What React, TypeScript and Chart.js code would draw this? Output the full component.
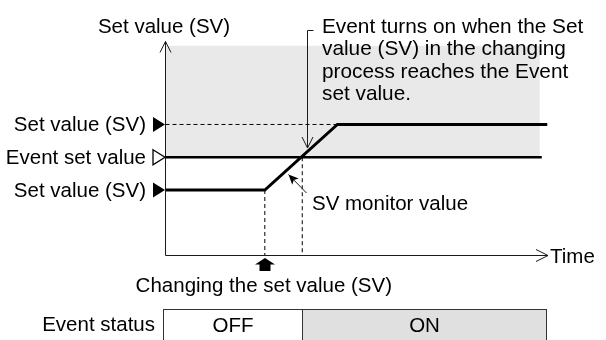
import React, { useEffect, useRef } from "react";
import { Chart, registerables } from "chart.js";

Chart.register(...registerables);

const FONT = '"Liberation Sans", Arial, Helvetica, sans-serif';

// ---- data ----
const svTimes = [0, 26, 45, 100];
const svValues = [30, 30, 60, 60];
const initialSV = 30;
const targetSV = 60;
const eventSetValue = 45;
const eventLineEnd = 98.5;
const shadeTop = 96;
const shadeEnd = 98;
const changeTime = 26;
const rampEndTime = 45;
const eventOnTime = 35.8;
const statusEdges = [-0.7, 35.8, 99.7];
const statusLabels = ["OFF", "ON"];
const xMax = 100;
const yMax = 98;

const yAxisTitle = "Set value (SV)";
const xAxisTitle = "Time";
const leftLabels = ["Set value (SV)", "Event set value", "Set value (SV)"];
const noteLines = [
  "Event turns on when the Set",
  "value (SV) in the changing",
  "process reaches the Event",
  "set value.",
];
const monitorLabel = "SV monitor value";
const changeLabel = "Changing the set value (SV)";
const statusTitle = "Event status";

const diagramPlugin = {
  id: "diagram",
  afterDraw(chart: any) {
    const ctx: CanvasRenderingContext2D = chart.ctx;
    const xs = chart.scales.x;
    const ys = chart.scales.y;
    const px = (v: number) => xs.getPixelForValue(v);
    const py = (v: number) => ys.getPixelForValue(v);
    const ax = Math.round(px(0)) - 0.5;
    const ay = Math.round(py(0)) - 0.5;
    const axEnd = px(xMax) + 0.5;
    const ayTop = py(yMax);

    ctx.save();
    ctx.strokeStyle = "#1a1a1a";
    ctx.lineWidth = 1;
    // axes
    ctx.beginPath();
    ctx.moveTo(ax, ay);
    ctx.lineTo(ax, ayTop);
    ctx.moveTo(ax, ay);
    ctx.lineTo(axEnd, ay);
    ctx.stroke();
    // y arrow head
    ctx.beginPath();
    ctx.moveTo(ax - 5.5, ayTop + 11);
    ctx.lineTo(ax, ayTop);
    ctx.lineTo(ax + 5.5, ayTop + 11);
    ctx.stroke();
    // x arrow head
    ctx.beginPath();
    ctx.moveTo(axEnd - 12, ay - 6);
    ctx.lineTo(axEnd, ay);
    ctx.lineTo(axEnd - 12, ay + 6);
    ctx.stroke();

    // left markers
    const markerVals = [targetSV, eventSetValue, initialSV];
    markerVals.forEach((v, i) => {
      const y = py(v);
      ctx.beginPath();
      ctx.moveTo(ax - 12.5, y - 7.5);
      ctx.lineTo(ax - 0.5, y);
      ctx.lineTo(ax - 12.5, y + 7.5);
      ctx.closePath();
      if (i === 1) {
        ctx.fillStyle = "#fff";
        ctx.fill();
        ctx.lineWidth = 1.3;
        ctx.strokeStyle = "#000";
        ctx.stroke();
      } else {
        ctx.fillStyle = "#000";
        ctx.fill();
      }
    });

    // texts
    ctx.fillStyle = "#000";
    ctx.font = `20.5px ${FONT}`;
    ctx.textBaseline = "alphabetic";
    ctx.textAlign = "center";
    ctx.fillText(yAxisTitle, 164, 32.5);
    ctx.textAlign = "right";
    markerVals.forEach((v, i) => {
      ctx.fillText(leftLabels[i], 146, py(v) + 7);
    });
    ctx.textAlign = "left";
    ctx.fillText(xAxisTitle, 550, ay + 7);
    ctx.fillText(monitorLabel, 312, 210);
    ctx.textAlign = "center";
    const cx = px(changeTime);
    ctx.fillText(changeLabel, cx - 1, 292);
    ctx.textAlign = "right";
    ctx.fillText(statusTitle, 155, 331);
    ctx.textAlign = "left";
    ctx.font = `20.8px ${FONT}`;
    noteLines.forEach((l, i) => ctx.fillText(l, 322, 33 + i * 22.3));
    ctx.font = `20.5px ${FONT}`;

    // annotation bracket with arrow
    ctx.strokeStyle = "#1a1a1a";
    ctx.lineWidth = 1;
    const bx = 307.5;
    const tipY = 148;
    ctx.beginPath();
    ctx.moveTo(313.5, 30.5);
    ctx.lineTo(bx, 30.5);
    ctx.lineTo(bx, tipY);
    ctx.stroke();
    ctx.beginPath();
    ctx.moveTo(bx - 5.5, tipY - 11);
    ctx.lineTo(bx, tipY);
    ctx.lineTo(bx + 5.5, tipY - 11);
    ctx.stroke();

    // SV monitor arrow
    const tx = 288.5, ty = 174.5, sx = 306.5, sy = 193;
    ctx.beginPath();
    ctx.moveTo(sx, sy);
    ctx.lineTo(tx, ty);
    ctx.stroke();
    const dx = sx - tx, dy = sy - ty;
    const len = Math.hypot(dx, dy);
    const ux = dx / len, uy = dy / len;
    const hl = 10, hw = 4.5;
    ctx.beginPath();
    ctx.moveTo(tx, ty);
    ctx.lineTo(tx + ux * hl - uy * hw, ty + uy * hl + ux * hw);
    ctx.lineTo(tx + ux * hl * 0.75, ty + uy * hl * 0.75);
    ctx.lineTo(tx + ux * hl + uy * hw, ty + uy * hl - ux * hw);
    ctx.closePath();
    ctx.fillStyle = "#000";
    ctx.fill();

    // block arrow under x axis
    const bax = Math.round(cx);
    ctx.beginPath();
    ctx.moveTo(bax, ay + 2.5);
    ctx.lineTo(bax + 10, ay + 9);
    ctx.lineTo(bax + 5.5, ay + 9);
    ctx.lineTo(bax + 5.5, ay + 15.5);
    ctx.lineTo(bax - 5.5, ay + 15.5);
    ctx.lineTo(bax - 5.5, ay + 9);
    ctx.lineTo(bax - 10, ay + 9);
    ctx.closePath();
    ctx.fill();

    // event status boxes
    const boxTop = 309.5;
    const boxH = 40;
    for (let i = 0; i < statusLabels.length; i++) {
      const l = Math.round(px(statusEdges[i])) + 0.5;
      const r = Math.round(px(statusEdges[i + 1])) + 0.5;
      ctx.fillStyle = i === 0 ? "#ffffff" : "#e0e0e0";
      ctx.fillRect(l, boxTop, r - l, boxH);
      ctx.strokeStyle = "#333";
      ctx.lineWidth = 1;
      ctx.strokeRect(l, boxTop, r - l, boxH);
      ctx.fillStyle = "#000";
      ctx.textAlign = "center";
      ctx.fillText(statusLabels[i], (l + r) / 2, 331.5);
    }
    ctx.restore();
  },
};

export default function App() {
  const ref = useRef<HTMLCanvasElement>(null);
  useEffect(() => {
    const line = (pts: { x: number; y: number }[], extra: any) => ({
      data: pts,
      showLine: true,
      pointRadius: 0,
      borderColor: "#000",
      borderWidth: 1,
      fill: false,
      ...extra,
    });
    const chart = new Chart(ref.current!, {
      type: "scatter",
      data: {
        datasets: [
          line(
            svTimes.map((t, i) => ({ x: t, y: svValues[i] })),
            { borderWidth: 3, borderJoinStyle: "miter", borderCapStyle: "butt" }
          ),
          line(
            [
              { x: 0, y: eventSetValue },
              { x: eventLineEnd, y: eventSetValue },
            ],
            { borderWidth: 2.5 }
          ),
          line(
            [
              { x: 0, y: targetSV },
              { x: rampEndTime, y: targetSV },
            ],
            { borderDash: [4, 3] }
          ),
          line(
            [
              { x: changeTime, y: initialSV },
              { x: changeTime, y: 0 },
            ],
            { borderDash: [4, 3] }
          ),
          line(
            [
              { x: eventOnTime, y: eventSetValue },
              { x: eventOnTime, y: 0 },
            ],
            { borderDash: [4, 3] }
          ),
          line(
            [
              { x: 0, y: shadeTop },
              { x: shadeEnd, y: shadeTop },
            ],
            {
              borderWidth: 0,
              borderColor: "rgba(0,0,0,0)",
              backgroundColor: "#e9e9e9",
              fill: { value: eventSetValue },
            }
          ),
        ],
      },
      options: {
        animation: false,
        responsive: false,
        devicePixelRatio: 1,
        layout: { padding: { left: 165.5, right: 58.5, top: 41.5, bottom: 84.5 } },
        scales: {
          x: { type: "linear", min: 0, max: xMax, display: false },
          y: { type: "linear", min: 0, max: yMax, display: false },
        },
        plugins: {
          legend: { display: false },
          tooltip: { enabled: false },
        },
      },
      plugins: [diagramPlugin],
    } as any);
    return () => chart.destroy();
  }, []);
  return (
    <div
      style={{
        position: "fixed",
        left: 0,
        top: 0,
        width: 606,
        height: 340,
        background: "#fff",
      }}
    >
      <canvas
        ref={ref}
        width={606}
        height={340}
        style={{ display: "block", width: 606, height: 340 }}
      />
    </div>
  );
}
